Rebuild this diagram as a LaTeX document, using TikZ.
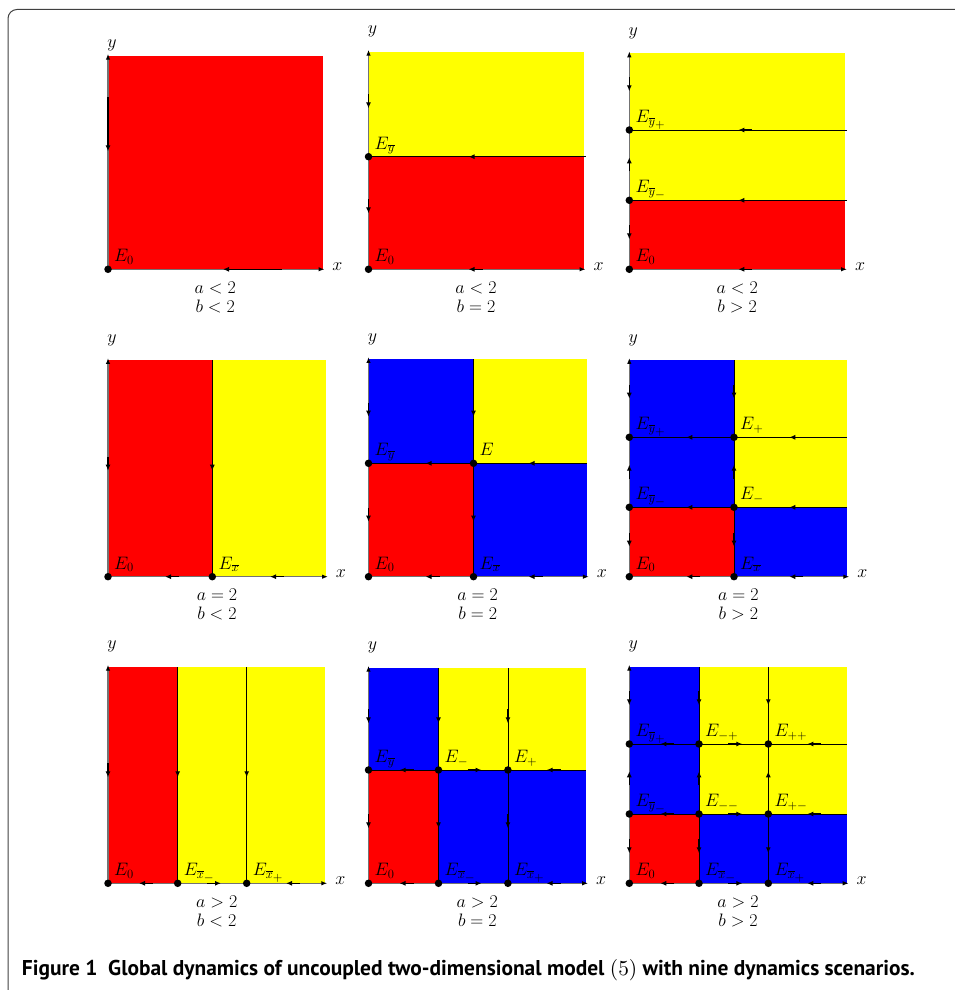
\RequirePackage{fix-cm}
\documentclass[tikz,border=0pt]{standalone}
\usepackage{fontspec}
\newfontfamily\capfont{PT Sans}
\usetikzlibrary{arrows.meta}
\definecolor{pred}{RGB}{255,0,0}
\definecolor{pyellow}{RGB}{255,255,0}
\definecolor{pblue}{RGB}{0,0,255}
\newcommand\pfont{\fontsize{18}{21}\selectfont}
\newcommand\cfont{\fontsize{18}{19}\selectfont}
\newcommand\ssub[1]{{}_{\scriptstyle #1}}
\tikzset{
 axisline/.style={draw=black!55, line width=1.2pt, -{Latex[length=6pt,width=4.5pt,color=black]}},
 sepline/.style={draw=black, line width=0.8pt},
 flow/.style={draw=black, line width=1.3pt, -{Latex[length=6pt,width=5pt]}},
 eqpt/.style={circle, fill=black, inner sep=0pt, minimum size=7.5pt},
 elab/.style={anchor=base west, inner sep=0pt, font=\pfont},
 axlab/.style={inner sep=0pt, font=\pfont},
 cond/.style={align=center, inner sep=0pt, font=\cfont},
 outerframe/.style={draw=black!75, line width=1pt, rounded corners=9pt},
}
\newcommand\paxes[1]{%
 \draw[axisline] (0,0) coordinate (o) -- (\W+2,0) coordinate (xe);
 \draw[axisline] (o) -- (0,\H+2) coordinate (ye);
 \node[axlab] (xl) at (\W+15,3) {$x$};
 \node[axlab] (yl) at (4,\H+#1) {$y$};}
\newcommand\pcond[2]{\node[cond] (cond) at (\W/2,-28) {$#1$\\$#2$};}
\newcommand\eqp[3]{\node[eqpt] (#1) at (#2) {}; \path (#1.center) ++(6,7.5) node[elab] (#1l) {$#3$};}
\newcommand\flowL[2]{\draw[flow] (#1+14,#2) -- (#1,#2);}
\newcommand\flowR[2]{\draw[flow] (#1-14,#2) -- (#1,#2);}
\newcommand\flowD[2]{\draw[flow] (#1,#2+14) -- (#1,#2);}
\newcommand\flowU[2]{\draw[flow] (#1,#2-14) -- (#1,#2);}
\begin{document}
\begin{tikzpicture}[x=1pt,y=1pt]
\useasboundingbox (0,0) rectangle (955,990);
\draw[outerframe] (8,-3) -- (8,980.5) -- (960,980.5);
% ---------- Panel 1 ----------
\begin{scope}[shift={(108,720.7)}, name prefix=p1-]
\def\W{214.5}\def\H{213.6}
\fill[pred] (0,0) rectangle (\W,\H);
\paxes{10.7}
\draw[flow] (0,172) -- (0,118);
\draw[flow] (174,0) -- (115,0);
\eqp{E0}{0,0}{E_0}
\pcond{a<2}{b<2}
\end{scope}
% ---------- Panel 2 ----------
\begin{scope}[shift={(368.5,720.7)}, name prefix=p2-]
\def\W{215}\def\H{217.6}
\def\yb{112.6}
\fill[pred] (0,0) rectangle (\W,\yb);
\fill[pyellow] (0,\yb) rectangle (\W,\H);
\draw[sepline] (0,\yb) -- (\W+2,\yb);
\paxes{20}
\flowD{0}{161}\flowD{0}{56}
\flowL{100}{0}\flowL{100}{\yb}
\eqp{E0}{0,0}{E_0}
\eqp{Eyb}{0,\yb}{E_{\overline{y}}}
\pcond{a<2}{b=2}
\end{scope}
% ---------- Panel 3 ----------
\begin{scope}[shift={(629.3,720.7)}, name prefix=p3-]
\def\W{215.7}\def\H{216}
\def\ym{69}\def\yp{139.3}
\fill[pred] (0,0) rectangle (\W,\ym);
\fill[pyellow] (0,\ym) rectangle (\W,\H);
\draw[sepline] (0,\ym) -- (\W+2,\ym);
\draw[sepline] (0,\yp) -- (\W+2,\yp);
\paxes{20}
\flowD{0}{178}\flowU{0}{112}\flowD{0}{30}
\flowL{109}{0}\flowL{109}{\ym}\flowL{109}{\yp}
\eqp{E0}{0,0}{E_0}
\eqp{Eym}{0,\ym}{E_{\overline{y}\ssub{-}}}
\eqp{Eyp}{0,\yp}{E_{\overline{y}\ssub{+}}}
\pcond{a<2}{b>2}
\end{scope}
% ---------- Panel 4 ----------
\begin{scope}[shift={(108,413.3)}, name prefix=p4-]
\def\W{218}\def\H{216.7}
\def\xb{104.3}
\fill[pred] (0,0) rectangle (\xb,\H);
\fill[pyellow] (\xb,0) rectangle (\W,\H);
\draw[sepline] (\xb,0) -- (\xb,\H);
\paxes{20}
\flowD{0}{106}\flowD{\xb}{106}
\flowL{57}{0}\flowL{162}{0}
\eqp{E0}{0,0}{E_0}
\eqp{Exb}{\xb,0}{E_{\overline{x}}}
\pcond{a=2}{b<2}
\end{scope}
% ---------- Panel 5 ----------
\begin{scope}[shift={(368.5,413.3)}, name prefix=p5-]
\def\W{218.4}\def\H{217.7}
\def\xb{105}\def\yb{113.4}
\fill[pred] (0,0) rectangle (\xb,\yb);
\fill[pblue] (0,\yb) rectangle (\xb,\H);
\fill[pblue] (\xb,0) rectangle (\W,\yb);
\fill[pyellow] (\xb,\yb) rectangle (\W,\H);
\draw[sepline] (\xb,0) -- (\xb,\H);
\draw[sepline] (0,\yb) -- (\W,\yb);
\paxes{20}
\flowD{0}{160}\flowD{0}{55}\flowD{\xb}{160}\flowD{\xb}{55}
\flowL{57}{0}\flowL{160}{0}\flowL{57}{\yb}\flowL{160}{\yb}
\eqp{E0}{0,0}{E_0}
\eqp{Exb}{\xb,0}{E_{\overline{x}}}
\eqp{Eyb}{0,\yb}{E_{\overline{y}}}
\eqp{E}{\xb,\yb}{E}
\pcond{a=2}{b=2}
\end{scope}
% ---------- Panel 6 ----------
\begin{scope}[shift={(629.3,413.3)}, name prefix=p6-]
\def\W{218}\def\H{216.7}
\def\xb{104.7}\def\ym{69.4}\def\yp{139.4}
\fill[pred] (0,0) rectangle (\xb,\ym);
\fill[pblue] (0,\ym) rectangle (\xb,\H);
\fill[pblue] (\xb,0) rectangle (\W,\ym);
\fill[pyellow] (\xb,\ym) rectangle (\W,\H);
\draw[sepline] (\xb,0) -- (\xb,\H);
\draw[sepline] (0,\ym) -- (\W,\ym);
\draw[sepline] (0,\yp) -- (\W,\yp);
\paxes{20}
\foreach \vx in {0,\xb}{\flowD{\vx}{178}\flowU{\vx}{112}\flowD{\vx}{30}}
\foreach \hy in {0,\ym,\yp}{\flowL{57}{\hy}\flowL{160}{\hy}}
\eqp{E0}{0,0}{E_0}
\eqp{Exb}{\xb,0}{E_{\overline{x}}}
\eqp{Eym}{0,\ym}{E_{\overline{y}\ssub{-}}}
\eqp{Eyp}{0,\yp}{E_{\overline{y}\ssub{+}}}
\eqp{Em}{\xb,\ym}{E_-}
\eqp{Ep}{\xb,\yp}{E_+}
\pcond{a=2}{b>2}
\end{scope}
% ---------- Panel 7 ----------
\begin{scope}[shift={(108,106.7)}, name prefix=p7-]
\def\W{217.3}\def\H{216.6}
\def\xm{69.7}\def\xp{138.7}
\fill[pred] (0,0) rectangle (\xm,\H);
\fill[pyellow] (\xm,0) rectangle (\W,\H);
\draw[sepline] (\xm,0) -- (\xm,\H);
\draw[sepline] (\xp,0) -- (\xp,\H);
\paxes{20}
\foreach \vx in {0,\xm,\xp}{\flowD{\vx}{106}}
\flowL{31}{0}\flowR{113}{0}\flowL{178}{0}
\eqp{E0}{0,0}{E_0}
\eqp{Exm}{\xm,0}{E_{\overline{x}\ssub{-}}}
\eqp{Exp}{\xp,0}{E_{\overline{x}\ssub{+}}}
\pcond{a>2}{b<2}
\end{scope}
% ---------- Panel 8 ----------
\begin{scope}[shift={(368.5,106.7)}, name prefix=p8-]
\def\W{217.7}\def\H{215.6}
\def\xm{70}\def\xp{139.4}\def\yb{113.3}
\fill[pred] (0,0) rectangle (\xm,\yb);
\fill[pblue] (0,\yb) rectangle (\xm,\H);
\fill[pblue] (\xm,0) rectangle (\W,\yb);
\fill[pyellow] (\xm,\yb) rectangle (\W,\H);
\draw[sepline] (\xm,0) -- (\xm,\H);
\draw[sepline] (\xp,0) -- (\xp,\H);
\draw[sepline] (0,\yb) -- (\W,\yb);
\paxes{20}
\foreach \vx in {0,\xm,\xp}{\flowD{\vx}{160}\flowD{\vx}{55}}
\foreach \hy in {0,\yb}{\flowL{31}{\hy}\flowR{113}{\hy}\flowL{178}{\hy}}
\eqp{E0}{0,0}{E_0}
\eqp{Exm}{\xm,0}{E_{\overline{x}\ssub{-}}}
\eqp{Exp}{\xp,0}{E_{\overline{x}\ssub{+}}}
\eqp{Eyb}{0,\yb}{E_{\overline{y}}}
\eqp{Em}{\xm,\yb}{E_-}
\eqp{Ep}{\xp,\yb}{E_+}
\pcond{a>2}{b=2}
\end{scope}
% ---------- Panel 9 ----------
\begin{scope}[shift={(629.3,106.7)}, name prefix=p9-]
\def\W{217.4}\def\H{216.6}
\def\xm{69.7}\def\xp{139}\def\ym{69.3}\def\yp{139.3}
\fill[pred] (0,0) rectangle (\xm,\ym);
\fill[pblue] (0,\ym) rectangle (\xm,\H);
\fill[pblue] (\xm,0) rectangle (\W,\ym);
\fill[pyellow] (\xm,\ym) rectangle (\W,\H);
\draw[sepline] (\xm,0) -- (\xm,\H);
\draw[sepline] (\xp,0) -- (\xp,\H);
\draw[sepline] (0,\ym) -- (\W,\ym);
\draw[sepline] (0,\yp) -- (\W,\yp);
\paxes{20}
\foreach \vx in {0,\xm,\xp}{\flowD{\vx}{178}\flowU{\vx}{112}\flowD{\vx}{30}}
\foreach \hy in {0,\ym,\yp}{\flowL{31}{\hy}\flowR{113}{\hy}\flowL{178}{\hy}}
\eqp{E0}{0,0}{E_0}
\eqp{Exm}{\xm,0}{E_{\overline{x}\ssub{-}}}
\eqp{Exp}{\xp,0}{E_{\overline{x}\ssub{+}}}
\eqp{Eym}{0,\ym}{E_{\overline{y}\ssub{-}}}
\eqp{Eyp}{0,\yp}{E_{\overline{y}\ssub{+}}}
\eqp{Emm}{\xm,\ym}{E_{--}}
\eqp{Emp}{\xm,\yp}{E_{-+}}
\eqp{Epm}{\xp,\ym}{E_{+-}}
\eqp{Epp}{\xp,\yp}{E_{++}}
\pcond{a>2}{b>2}
\end{scope}
% ---------- Caption ----------
\node[anchor=base west, inner sep=0pt] (caption) at (21.7,14)
 {\resizebox{893pt}{!}{\capfont\bfseries Figure 1\enspace Global dynamics of uncoupled two-dimensional model {\normalfont(5)} with nine dynamics scenarios.}};
\end{tikzpicture}
\end{document}
